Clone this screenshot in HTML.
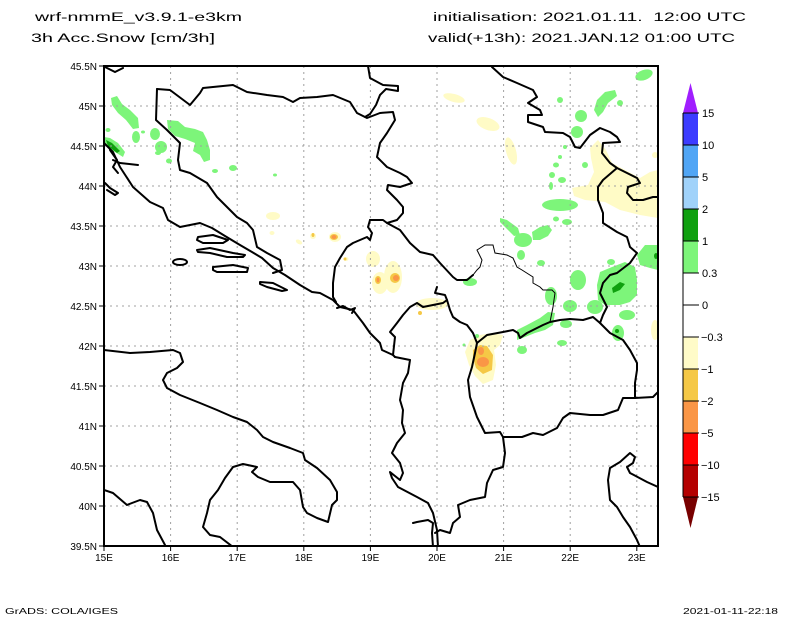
<!DOCTYPE html>
<html><head><meta charset="utf-8"><style>
html,body{margin:0;padding:0;background:#fff;}
svg{display:block;}
text{font-family:"Liberation Sans",sans-serif;fill:#000;}
</style></head><body>
<svg width="800" height="618" viewBox="0 0 800 618" xmlns="http://www.w3.org/2000/svg">
<defs><clipPath id="pc"><rect x="104" y="66" width="554" height="480"/></clipPath></defs>
<rect width="800" height="618" fill="#fff"/>

<!-- titles -->
<text x="35" y="21" font-size="11.5" textLength="207" lengthAdjust="spacingAndGlyphs">wrf-nmmE_v3.9.1-e3km</text>
<text x="31" y="42" font-size="11.5" textLength="184" lengthAdjust="spacingAndGlyphs">3h Acc.Snow [cm/3h]</text>
<text x="433" y="21" font-size="11.5" textLength="313" lengthAdjust="spacingAndGlyphs">initialisation: 2021.01.11.&#160; 12:00 UTC</text>
<text x="428" y="42" font-size="11.5" textLength="307" lengthAdjust="spacingAndGlyphs">valid(+13h): 2021.JAN.12 01:00 UTC</text>

<g clip-path="url(#pc)">
<!-- yellow -->
<g fill="#fffbc6">
<ellipse cx="454" cy="98" rx="11" ry="4" transform="rotate(15 454 98)"/>
<ellipse cx="488" cy="124" rx="12" ry="6" transform="rotate(20 488 124)"/>
<ellipse cx="511" cy="151" rx="5" ry="14" transform="rotate(-15 511 151)"/>
<path d="M590,148 L598,140 L606,150 L612,163 L625,170 L640,178 L650,172 L658,170 L658,218 L640,215 L620,210 L605,202 L585,200 L574,196 L572,188 L588,185 L594,172 L591,158 Z"/>
<ellipse cx="655" cy="155" rx="3" ry="3"/>
<ellipse cx="273" cy="216" rx="7" ry="4"/>
<ellipse cx="272" cy="233" rx="2.5" ry="2"/>
<ellipse cx="299" cy="242" rx="3.5" ry="2" transform="rotate(30 299 242)"/>
<ellipse cx="313" cy="236" rx="3" ry="3"/>
<ellipse cx="335" cy="237" rx="6" ry="5"/>
<ellipse cx="346" cy="259" rx="2.5" ry="2"/>
<ellipse cx="373" cy="259" rx="7" ry="8"/>
<ellipse cx="380" cy="283" rx="8" ry="11"/>
<ellipse cx="393" cy="277" rx="9" ry="16"/>
<ellipse cx="432" cy="304" rx="16" ry="6"/>
<path d="M470,340 L480,335 L492,333 L503,335 L500,345 L494,350 L496,365 L493,380 L483,384 L475,376 L469,365 L465,352 Z"/>
<ellipse cx="655" cy="330" rx="4" ry="10"/>
</g>
<!-- gold -->
<g fill="#f5c846">
<ellipse cx="313" cy="235" rx="1.5" ry="2"/>
<ellipse cx="334" cy="237" rx="4" ry="3"/>
<ellipse cx="345" cy="259" rx="1.5" ry="1.5"/>
<ellipse cx="378" cy="280" rx="3" ry="4"/>
<ellipse cx="395" cy="278" rx="5" ry="5"/>
<ellipse cx="420" cy="313" rx="2" ry="2"/>
<path d="M473,350 L480,345 L487,346 L493,355 L492,370 L483,374 L476,368 L473,358 Z"/>
</g>
<!-- orange -->
<g fill="#fa9646">
<ellipse cx="334" cy="237" rx="2.5" ry="2"/>
<ellipse cx="378" cy="280" rx="1.5" ry="2.5"/>
<ellipse cx="396" cy="278" rx="3" ry="3"/>
<ellipse cx="483" cy="362" rx="6" ry="5"/>
<ellipse cx="481" cy="351" rx="3" ry="4"/>
</g>
<!-- light green -->
<g fill="#7df57a">
<path d="M111,98 L117,96 L122,104 L130,110 L138,118 L139,128 L133,129 L126,120 L118,113 L112,105 Z"/>
<path d="M104,137 L110,138 L118,143 L125,152 L123,157 L115,152 L106,146 L104,144 Z"/>
<ellipse cx="108" cy="130" rx="2.5" ry="2"/>
<ellipse cx="136" cy="137" rx="4" ry="6"/>
<ellipse cx="143" cy="132" rx="2" ry="1.5"/>
<ellipse cx="155" cy="134" rx="5" ry="6"/>
<ellipse cx="161" cy="147" rx="6" ry="6"/>
<ellipse cx="158" cy="153" rx="3" ry="2"/>
<ellipse cx="169" cy="161" rx="3" ry="2.5"/>
<path d="M167,120 L178,121 L185,127 L195,129 L203,132 L207,140 L210,150 L210,160 L204,162 L200,155 L193,151 L195,143 L185,139 L175,136 L168,129 Z"/>
<ellipse cx="215" cy="171" rx="3" ry="2"/>
<ellipse cx="233" cy="168" rx="4" ry="3"/>
<ellipse cx="275" cy="175" rx="2" ry="1.5"/>
<ellipse cx="644" cy="75" rx="9" ry="5" transform="rotate(-20 644 75)"/>
<path d="M605,92 L615,90 L617,96 L608,103 L603,112 L598,117 L594,110 L597,100 Z"/>
<ellipse cx="620" cy="103" rx="3" ry="3"/>
<ellipse cx="560" cy="100" rx="3" ry="3"/>
<ellipse cx="581" cy="116" rx="6" ry="6"/>
<ellipse cx="577" cy="132" rx="6" ry="6"/>
<ellipse cx="565" cy="147" rx="2" ry="2"/>
<ellipse cx="560" cy="157" rx="2" ry="2"/>
<ellipse cx="556" cy="165" rx="3" ry="2.5"/>
<ellipse cx="585" cy="165" rx="3" ry="3"/>
<ellipse cx="552" cy="175" rx="3" ry="3"/>
<ellipse cx="562" cy="180" rx="4" ry="3"/>
<ellipse cx="551" cy="186" rx="2" ry="4"/>
<ellipse cx="560" cy="205" rx="18" ry="6"/>
<ellipse cx="556" cy="219" rx="3" ry="2.5"/>
<ellipse cx="567" cy="222" rx="5" ry="3"/>
<path d="M500,218 L507,220 L518,228 L520,235 L514,236 L506,228 L500,222 Z"/>
<ellipse cx="523" cy="240" rx="9" ry="7"/>
<path d="M532,232 L540,227 L548,225 L552,230 L548,236 L540,240 L533,240 Z"/>
<ellipse cx="521" cy="255" rx="4" ry="5"/>
<ellipse cx="541" cy="263" rx="4" ry="3"/>
<ellipse cx="578" cy="280" rx="8" ry="10"/>
<ellipse cx="611" cy="262" rx="4" ry="3"/>
<path d="M600,272 L612,267 L625,262 L635,267 L637,280 L637,295 L630,302 L620,305 L605,305 L598,300 L597,285 Z"/>
<path d="M637,255 L645,245 L658,245 L658,270 L650,268 L640,265 Z"/>
<ellipse cx="551" cy="296" rx="6" ry="9"/>
<ellipse cx="470" cy="282" rx="7" ry="4"/>
<path d="M517,330 L527,325 L540,318 L548,312 L555,313 L553,325 L545,330 L535,333 L525,337 L517,340 Z"/>
<ellipse cx="522" cy="350" rx="5" ry="4"/>
<ellipse cx="562" cy="343" rx="5" ry="3"/>
<ellipse cx="566" cy="324" rx="6" ry="4"/>
<ellipse cx="570" cy="306" rx="7" ry="6"/>
<ellipse cx="595" cy="307" rx="8" ry="7"/>
<ellipse cx="627" cy="315" rx="8" ry="5"/>
<ellipse cx="618" cy="333" rx="6" ry="8"/>
<ellipse cx="477" cy="336" rx="2" ry="2"/>
<ellipse cx="464" cy="345" rx="1.5" ry="1.5"/>
</g>
<!-- dark green -->
<g fill="#0fa00f">
<path d="M106,140 L112,143 L120,151 L117,153 L108,146 Z"/>
<path d="M612,288 L620,282 L625,284 L620,290 L613,293 Z"/>
<ellipse cx="656" cy="256" rx="2" ry="3"/>
<ellipse cx="617" cy="331" rx="2" ry="2"/>
</g>

<!-- grid -->
<g stroke="#a0a0a0" stroke-width="1" stroke-dasharray="2 4" fill="none">
<path d="M170.6,66V546M237.2,66V546M303.8,66V546M370.4,66V546M437,66V546M503.6,66V546M570.2,66V546M636.8,66V546"/>
<path d="M104,106H658M104,146H658M104,186H658M104,226H658M104,266H658M104,306H658M104,346H658M104,386H658M104,426H658M104,466H658M104,506H658"/>
</g>

<!-- borders -->
<g fill="none" stroke="#000" stroke-width="2" stroke-linejoin="round" stroke-linecap="round">
<polyline points="105,67 115,72 123,68"/>
<polyline points="104,143 113,152 120,167 133,187 150,202 163,208 168,220 180,227 200,223 212,228 225,236 240,245 252,252 262,258 273,268 285,275 300,285 312,292 320,293 333,300 340,307 353,310 363,323 370,333 380,343 382,350 393,355 395,357"/>
<polyline points="113,160 120,163 138,165"/>
<polyline points="110,150 117,160 113,167 118,173"/>
<polyline points="105,183 110,188 118,193 115,195 107,190"/>
<polyline points="157,89 170,90 190,105 200,93 203,88 233,85 247,92 267,95 283,97 293,102 300,98 317,97 333,95 350,102 357,113 367,118 380,113 393,112 395,120 387,133 380,143 377,157 387,167 400,173 407,177 412,183 400,187 388,185 387,190 397,200 403,207 403,213 397,220 387,223 383,220 370,220"/>
<polyline points="157,89 156,120 167,130 180,143 178,160 180,170 190,173 207,183 217,197 227,207 237,217 247,223 253,230 257,247 267,253 280,260 282,270 273,273"/>
<polyline points="368,66 370,78 383,85 398,86 398,91 386,89 380,95 376,105 370,114 365,117"/>
<polyline points="370,220 368,227 372,233 370,240 367,237 353,243 347,247 340,258 335,267 333,283 333,297 336,302"/>
<polyline points="387,223 400,230 410,243 420,252 433,255 440,263 453,277 457,280 467,280 473,275"/>
<polyline points="437,287 435,293 445,295 447,300 450,310 453,317 460,322 467,325 473,333 477,343"/>
<polyline points="447,300 443,303 423,307 417,303 410,307 403,315 397,323 390,332 395,337 393,355"/>
<polyline points="395,357 410,360 408,373 403,383 400,400 403,410 402,423 405,433 397,443 392,453 400,463 403,473 400,480 390,472 392,478 398,487 417,497 428,503 433,513 437,530 438,547"/>
<polyline points="413,523 417,522 428,520 433,523 432,533 433,547"/>
<polyline points="477,343 475,353 472,367 468,380 470,397 477,417 485,433 500,432 503,437 505,453 503,467 493,470 487,483 485,497 470,500 458,505 460,517 453,523 450,533 440,530 435,533"/>
<polyline points="503,437 522,437 533,433 543,435 557,428 563,418 570,413 590,415 603,415 618,410 623,398 635,398 653,397 658,392"/>
<polyline points="477,343 487,335 503,332 513,330 518,333 520,338 527,333 543,325 550,322 560,320 570,319 583,320 593,317 600,323 610,333 623,340 630,350 637,363 637,370 635,383 635,398"/>
<polyline points="492,67 503,77 517,83 533,90 537,97 528,103 540,110 542,115 528,115 528,122 543,127 545,132 563,133 570,137 575,147 580,148 590,135 600,128 610,132 617,137 620,142 603,143 602,153 610,163 617,168 627,173 637,178 640,183 628,187 627,193 633,200 643,200 653,197 660,197"/>
<polyline points="617,168 603,180 598,187 598,200 603,213 603,223 617,232 627,237 630,247 637,253 630,263 617,273 610,275 603,283 600,293 607,307 603,315 600,323"/>
<polyline points="658,487 647,482 630,473 627,467 633,463 635,457 630,453 620,462 610,468 608,480 610,500 617,507 623,517 630,527 637,540 640,547"/>
<polyline points="104,350 130,353 150,352 173,350 180,353 183,362 177,368 167,373 163,380 167,388 180,395 200,403 217,410 233,417 247,422 257,430 263,437 273,442 290,448 303,453 305,460 317,468 330,480 337,492 337,500 332,505 328,522 317,518 307,513 303,507 300,490 293,482 270,482 258,477 252,472 257,467 243,464 233,467 225,478 218,490 210,500 207,513 203,527 210,535 220,537 233,547"/>
<polyline points="104,490 113,493 127,505 132,503 140,500 147,502 153,513 157,530 165,545"/>
<path d="M198,237 L213,235 L228,240 L223,243 L203,243 L197,240 Z"/>
<path d="M197,250 L210,248 L233,253 L245,255 L243,257 L227,257 L210,253 L198,252 Z"/>
<ellipse cx="180" cy="262" rx="7" ry="3"/>
<path d="M213,267 L233,265 L248,268 L247,272 L217,272 L213,270 Z"/>
<path d="M260,282 L273,283 L287,290 L282,291 L267,287 L260,284 Z"/>
<polyline points="337,308 343,306 350,310 355,308 352,313"/>
</g>
<polyline fill="none" stroke="#000" stroke-width="1" points="473,275 477,270 480,267 482,260 477,250 485,245 493,245 495,253 507,255 513,258 517,267 522,270 533,277 533,283 540,287 543,290 552,290 555,293 553,307 550,322"/>
</g>

<!-- frame & ticks -->
<rect x="104" y="66" width="554" height="480" fill="none" stroke="#000" stroke-width="2"/>
<g stroke="#000" stroke-width="1">
<path d="M99,66H104M99,106H104M99,146H104M99,186H104M99,226H104M99,266H104M99,306H104M99,346H104M99,386H104M99,426H104M99,466H104M99,506H104M99,546H104"/>
<path d="M104,546V551M170.6,546V551M237.2,546V551M303.8,546V551M370.4,546V551M437,546V551M503.6,546V551M570.2,546V551M636.8,546V551"/>
</g>
<g font-size="10" text-anchor="end">
<text x="97" y="70">45.5N</text><text x="97" y="110">45N</text><text x="97" y="150">44.5N</text><text x="97" y="190">44N</text>
<text x="97" y="230">43.5N</text><text x="97" y="270">43N</text><text x="97" y="310">42.5N</text><text x="97" y="350">42N</text>
<text x="97" y="390">41.5N</text><text x="97" y="430">41N</text><text x="97" y="470">40.5N</text><text x="97" y="510">40N</text><text x="97" y="550">39.5N</text>
</g>
<g font-size="10" text-anchor="middle">
<text x="104" y="561">15E</text><text x="170.6" y="561">16E</text><text x="237.2" y="561">17E</text><text x="303.8" y="561">18E</text>
<text x="370.4" y="561">19E</text><text x="437" y="561">20E</text><text x="503.6" y="561">21E</text><text x="570.2" y="561">22E</text><text x="636.8" y="561">23E</text>
</g>

<!-- colorbar -->
<polygon points="690.5,83 683,113 698,113" fill="#a01eff"/>
<rect x="683" y="113" width="15" height="32" fill="#3c3cff"/>
<rect x="683" y="145" width="15" height="32" fill="#50a5f5"/>
<rect x="683" y="177" width="15" height="32" fill="#a0d2fa"/>
<rect x="683" y="209" width="15" height="32" fill="#0fa00f"/>
<rect x="683" y="241" width="15" height="32" fill="#7df57a"/>
<rect x="683" y="337" width="15" height="32" fill="#fffbc8"/>
<rect x="683" y="369" width="15" height="32" fill="#f5c846"/>
<rect x="683" y="401" width="15" height="32" fill="#fa9646"/>
<rect x="683" y="433" width="15" height="32" fill="#ff0000"/>
<rect x="683" y="465" width="15" height="32" fill="#b40000"/>
<polygon points="683,497 698,497 690.5,528" fill="#780000"/>
<g stroke="#000" stroke-width="1" fill="none">
<path d="M683,113V497"/>
<path d="M683,113H699M683,145H699M683,177H699M683,209H699M683,241H699M683,273H699M683,305H699M683,337H699M683,369H699M683,401H699M683,433H699M683,465H699M683,497H699"/>
</g>
<g font-size="11">
<text x="702" y="117">15</text><text x="702" y="149">10</text><text x="702" y="181">5</text><text x="702" y="213">2</text>
<text x="702" y="245">1</text><text x="702" y="277">0.3</text><text x="702" y="309">0</text><text x="701" y="341">−0.3</text>
<text x="701" y="373">−1</text><text x="701" y="405">−2</text><text x="701" y="437">−5</text><text x="701" y="469">−10</text><text x="701" y="501">−15</text>
</g>

<text x="5" y="614" font-size="8" textLength="113" lengthAdjust="spacingAndGlyphs">GrADS: COLA/IGES</text>
<text x="683" y="614" font-size="8" textLength="95" lengthAdjust="spacingAndGlyphs">2021-01-11-22:18</text>
</svg>
</body></html>
